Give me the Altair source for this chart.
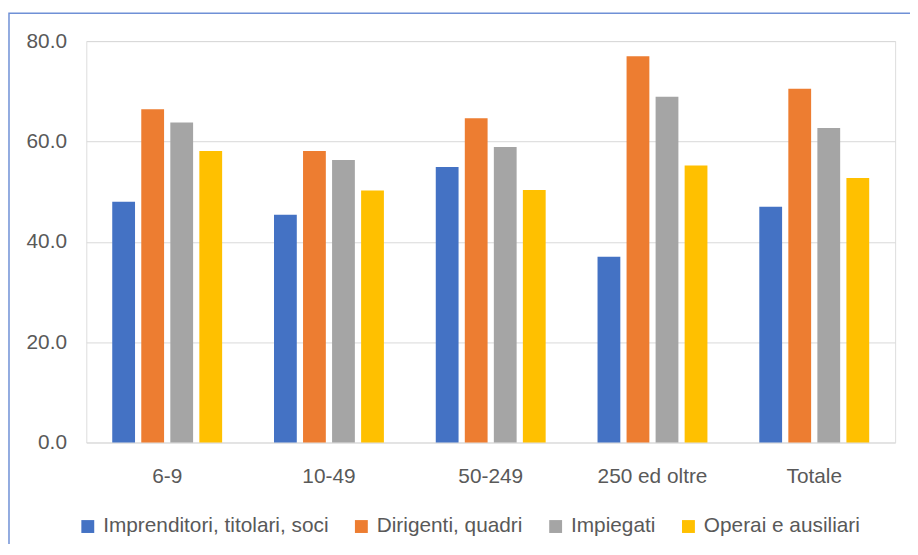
import altair as alt
import pandas as pd

groups = ["6-9", "10-49", "50-249", "250 ed oltre", "Totale"]
series = ["Imprenditori, titolari, soci", "Dirigenti, quadri", "Impiegati", "Operai e ausiliari"]
colors = ["#4472C4", "#ED7D31", "#A5A5A5", "#FFC000"]

imprenditori = [48.0, 45.4, 54.9, 37.0, 47.0]
dirigenti = [66.4, 58.1, 64.6, 77.0, 70.5]
impiegati = [63.8, 56.3, 58.9, 68.9, 62.7]
operai = [58.1, 50.2, 50.3, 55.2, 52.7]

y_ticks = [0, 20, 40, 60, 80]

rows = []
for s, vals in zip(series, [imprenditori, dirigenti, impiegati, operai]):
    for g, v in zip(groups, vals):
        rows.append({"gruppo": g, "serie": s, "valore": v})
df = pd.DataFrame(rows)

FONT = "Liberation Sans"
TXT = "#595959"

bars = alt.Chart(df).mark_bar().encode(
    x=alt.X("gruppo:N", sort=groups, title=None,
            scale=alt.Scale(paddingInner=0.282, paddingOuter=0.141),
            axis=alt.Axis(labelAngle=0, labelFontSize=21, labelColor=TXT, labelFont=FONT,
                          domain=False, ticks=False, labelPadding=23, grid=False)),
    xOffset=alt.XOffset("serie:N", sort=series,
                        scale=alt.Scale(paddingInner=0.215, paddingOuter=0.1075)),
    y=alt.Y("valore:Q", title=None,
            scale=alt.Scale(domain=[0, 80], nice=False),
            axis=alt.Axis(values=y_ticks, format=".1f", labelFontSize=21, labelColor=TXT,
                          labelFont=FONT, domain=False, ticks=False, labelPadding=20,
                          gridColor="#D9D9D9", gridWidth=1)),
    color=alt.Color("serie:N", sort=series, title=None,
                    scale=alt.Scale(domain=series, range=colors),
                    legend=alt.Legend(orient="none", legendX=-9, legendY=479,
                                      direction="horizontal", symbolType="square",
                                      symbolSize=169, symbolStrokeWidth=0,
                                      labelFontSize=21, labelColor=TXT, labelFont=FONT,
                                      labelLimit=400, labelOffset=5, columnPadding=22,
                                      padding=0)),
)

frame = alt.Chart(pd.DataFrame({"a": [0]})).mark_rect(
    fill=None, fillOpacity=0, stroke="#6F90D6", strokeWidth=1.5
).encode(
    x=alt.value(-78), x2=alt.value(860), y=alt.value(-28), y2=alt.value(560)
)

chart = alt.layer(frame, bars).properties(
    width=816, height=405,
    autosize=alt.AutoSizeParams(type="none"),
    padding={"left": 79, "top": 31, "right": 15, "bottom": 100},
).configure_view(stroke=None).configure(background="white")

chart.save("out.html", embed_options={"renderer": "svg", "actions": False})
